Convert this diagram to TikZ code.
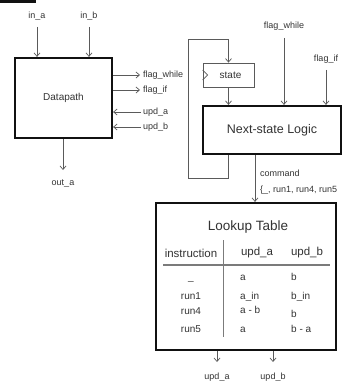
\documentclass[tikz,border=0pt]{standalone}
\usepackage{fontspec}
\setmainfont{Liberation Sans}
\usetikzlibrary{arrows.meta,positioning}
\definecolor{ink}  {HTML}{111111}
\definecolor{wire} {HTML}{5A5A5A}
\definecolor{txt}  {HTML}{333333}
\tikzset{
  >={Straight Barb[length=3.5pt,width=6pt]},
  % --- nodes
  blk/.style  = {draw=ink, line width=2.2pt, fill=white, inner sep=0pt, text=txt},
  reg/.style  = {draw=wire, line width=0.8pt, inner sep=0pt, text=txt,
                 font=\fontsize{10}{11}\selectfont},
  lbl/.style  = {text=txt, inner sep=1pt, font=\fontsize{9}{10}\selectfont},
  hd/.style   = {text=txt, inner sep=0pt, font=\fontsize{11.5}{12}\selectfont},
  cell/.style = {text=txt, inner sep=0pt, font=\fontsize{10}{11}\selectfont},
  % --- edges
  w/.style    = {->, draw=wire, line width=0.7pt},
  rl/.style   = {draw=wire!80, line width=0.8pt},
}
\begin{document}
\begin{tikzpicture}[x=1pt,y=-1pt]
  \useasboundingbox (0,0) rectangle (348,390);
  \fill[ink] (0,0) rectangle (36,3);

  % datapath
  \node[blk, minimum width=97pt, minimum height=80pt,
        font=\fontsize{10}{11}\selectfont] (dp) at (63.5,98) {Datapath};
  \coordinate (ina) at (37,27);
  \coordinate (inb) at (89,27);
  \node[lbl, above=6pt of ina] (ina-l) {in\_a};
  \node[lbl, above=6pt of inb] (inb-l) {in\_b};
  \draw[w] (ina) -- (ina |- dp.north);
  \draw[w] (inb) -- (inb |- dp.north);

  \coordinate (dfw) at (140,75);
  \coordinate (dfi) at (140,90);
  \coordinate (dua) at (141,112);
  \coordinate (dub) at (141,127);
  \draw[w] (dp.east |- dfw) -- (dfw);
  \draw[w] (dp.east |- dfi) -- (dfi);
  \draw[w] (dua) -- (dp.east |- dua);
  \draw[w] (dub) -- (dp.east |- dub);
  \node[lbl, right=2pt of dfw] (dfw-l) {flag\_while};
  \node[lbl, right=2pt of dfi] (dfi-l) {flag\_if};
  \node[lbl, right=1pt of dua] (dua-l) {upd\_a};
  \node[lbl, right=1pt of dub] (dub-l) {upd\_b};

  \coordinate (oa) at (63,170);
  \draw[w] (dp.south -| oa) -- (oa);
  \node[lbl, below=8pt of oa] (oa-l) {out\_a};

  % controller
  \node[reg, minimum width=51pt, minimum height=24pt] (st) at (228.5,75) {\hspace{4pt}state};
  \draw[wire, line width=0.6pt] ([yshift=5pt]st.west) -- ([xshift=5pt]st.west)
        -- ([yshift=-5pt]st.west);
  \node[blk, minimum width=138pt, minimum height=48pt,
        font=\fontsize{12.5}{13}\selectfont] (nsl) at (272,130) {Next-state Logic};

  \coordinate (fwh) at (284,38);
  \coordinate (fif) at (326,70);
  \node[lbl, above=6pt of fwh] (fwh-l) {flag\_while};
  \node[lbl, above=5pt of fif] (fif-l) {flag\_if};
  \draw[w] (fwh) -- (fwh |- nsl.north);
  \draw[w] (fif) -- (fif |- nsl.north);
  \draw[w] (st.south) -- (st.south |- nsl.north);

  \coordinate (lpb) at (188,178);
  \coordinate (lpt) at (188,39);
  \draw[w] (st.south |- nsl.south) |- (lpb) -- (lpt) -| (st.north);

  % lookup table
  \node[blk, minimum width=180pt, minimum height=147pt] (lut) at (246,276.5) {};
  \coordinate (cmd) at (255,154);
  \draw[w] (nsl.south -| cmd) -- (cmd |- lut.north);
  \node[lbl, anchor=west] (cmd-l) at (259,173) {command};
  \node[lbl, anchor=west] (cmd-v) at (259,190) {\{\_, run1, run4, run5};

  \node[font=\fontsize{13.5}{14}\selectfont, text=txt] (lut-t) at (248,227) {Lookup Table};
  \node[hd] (h-ins) at (191,253) {instruction};
  \node[hd] (h-a) at (257,253) {upd\_a};
  \node[hd] (h-b) at (307,253) {upd\_b};
  \draw[rl, line width=1.4pt] (163,265) -- (330,265);
  \draw[rl] (223,240) -- (223,337);

  \node[cell, anchor=base] (r1) at (191,280) {\_};
  \node[cell, anchor=base] (r2) at (191,299) {run1};
  \node[cell, anchor=base] (r3) at (191,314) {run4};
  \node[cell, anchor=base] (r4) at (191,332) {run5};
  \node[cell, anchor=base west] (a1) at (240,280) {a};
  \node[cell, anchor=base west] (a2) at (240,299) {a\_in};
  \node[cell, anchor=base west] (a3) at (240,313) {a - b};
  \node[cell, anchor=base west] (a4) at (240,332) {a};
  \node[cell, anchor=base west] (b1) at (291,280) {b};
  \node[cell, anchor=base west] (b2) at (291,299) {b\_in};
  \node[cell, anchor=base west] (b3) at (291,317) {b};
  \node[cell, anchor=base west] (b4) at (291,332) {b - a};

  \coordinate (oua) at (217,362);
  \coordinate (oub) at (273,362);
  \draw[w] (lut.south -| oua) -- (oua);
  \draw[w] (lut.south -| oub) -- (oub);
  \node[lbl, below=10pt of oua] (oua-l) {upd\_a};
  \node[lbl, below=10pt of oub] (oub-l) {upd\_b};
\end{tikzpicture}
\end{document}
